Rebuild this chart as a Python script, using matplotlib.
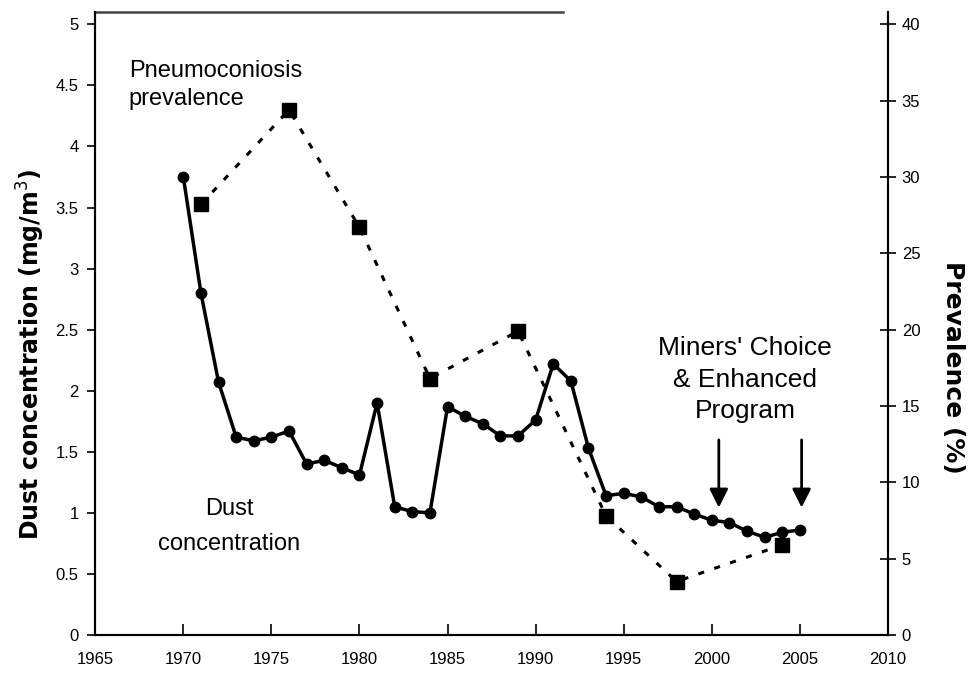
import matplotlib.pyplot as plt

plt.rcParams['font.family'] = ['Liberation Sans', 'DejaVu Sans']

dust_years = list(range(1970, 2006))
dust_conc = [3.75, 2.80, 2.07, 1.62, 1.59, 1.62, 1.67, 1.40, 1.43, 1.37,
             1.31, 1.90, 1.05, 1.01, 1.00, 1.87, 1.79, 1.73, 1.63, 1.63,
             1.76, 2.22, 2.08, 1.53, 1.14, 1.16, 1.13, 1.05, 1.05, 0.99,
             0.94, 0.92, 0.85, 0.80, 0.84, 0.86]

prev_years = [1971, 1976, 1980, 1984, 1989, 1994, 1998, 2004]
prevalence = [28.2, 34.4, 26.7, 16.8, 19.9, 7.8, 3.5, 5.9]

arrow_years = [2000.4, 2005.1]

fig = plt.figure(figsize=(9.72, 6.73), dpi=100)
ax = fig.add_axes([0.098, 0.0565, 0.8155, 0.9255])
ax2 = ax.twinx()

ax.plot(dust_years, dust_conc, '-o', color='black', lw=2.5, markersize=7.5, zorder=3)
ax2.plot(prev_years, prevalence, linestyle=(0, (2, 3.5)), marker='s', color='black',
         lw=2.2, markersize=9.5)

ax.set_xlim(1965, 2010)
ax.set_ylim(0, 5.1)
ax2.set_ylim(0, 40.8)
ax.set_xticks(range(1965, 2011, 5))
ax.set_yticks([0, 0.5, 1, 1.5, 2, 2.5, 3, 3.5, 4, 4.5, 5])
ax.set_yticklabels(['0', '0.5', '1', '1.5', '2', '2.5', '3', '3.5', '4', '4.5', '5'])
ax2.set_yticks(range(0, 41, 5))

for a in (ax, ax2):
    a.spines['top'].set_visible(False)
    for s in ['left', 'right', 'bottom']:
        a.spines[s].set_linewidth(1.5)

# partial top border
ax.plot([0, 0.59], [1, 1], transform=ax.transAxes, color='#444444', lw=1.8, clip_on=False)

ax.tick_params(axis='y', direction='out', length=6, width=1.2, labelsize=12, pad=6)
ax.tick_params(axis='x', direction='in', length=8, width=1.2, labelsize=12, pad=12)
ax2.tick_params(axis='y', direction='inout', length=12, width=1.2, labelsize=12, pad=4)

ax.set_ylabel('Dust concentration (mg/m$^3$)', fontsize=17, fontweight='bold',
              family='DejaVu Sans', labelpad=6)
ax.yaxis.label.set_y(0.45)
ax2.set_ylabel('Prevalence (%)', fontsize=18, fontweight='bold', family='DejaVu Sans',
               rotation=-90, labelpad=32)
ax2.yaxis.label.set_y(0.43)

ax.text(1966.9, 4.5, 'Pneumoconiosis\nprevalence', fontsize=17, ha='left', va='center',
        linespacing=1.35)
ax.text(1972.6, 0.89, 'Dust\nconcentration', fontsize=17, ha='center', va='center',
        linespacing=1.75)
ax.text(2001.9, 2.09, "Miners' Choice\n& Enhanced\nProgram", fontsize=19, ha='center',
        va='center', linespacing=1.4)

for yr in arrow_years:
    ax.annotate('', xy=(yr, 1.02), xytext=(yr, 1.62),
                arrowprops=dict(arrowstyle='-|>', color='black', lw=2,
                                mutation_scale=28))

fig.savefig('out.png', dpi=100)
